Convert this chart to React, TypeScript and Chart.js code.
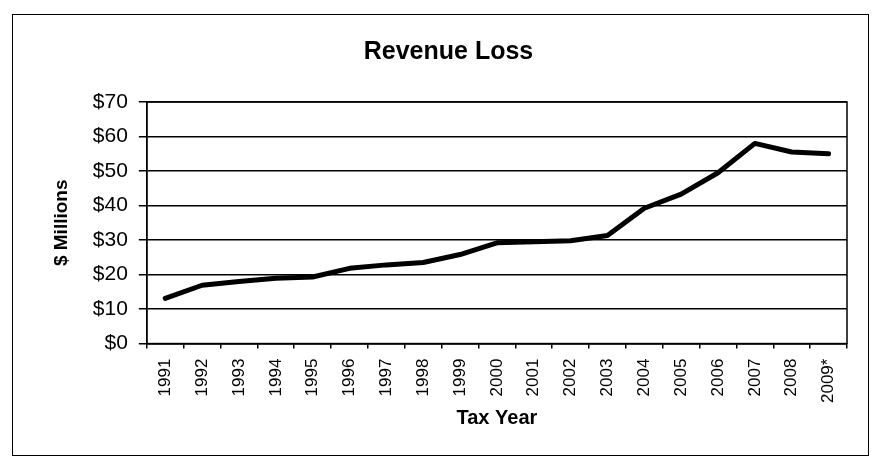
import React, { useEffect, useRef } from "react";
import { Chart, registerables } from "chart.js";

Chart.register(...registerables);

const taxYears = [
  "1991", "1992", "1993", "1994", "1995", "1996", "1997", "1998", "1999", "2000",
  "2001", "2002", "2003", "2004", "2005", "2006", "2007", "2008", "2009*",
];
const revenueLossMillions = [
  13.1, 16.9, 18.0, 18.9, 19.3, 21.8, 22.8, 23.5, 25.8, 29.2,
  29.5, 29.8, 31.3, 39.2, 43.3, 49.5, 58.0, 55.5, 55.0,
];
const yMin = 0;
const yMax = 70;
const yStep = 10;

const FONT = "'Liberation Sans', Arial, Helvetica, sans-serif";

const plotBorder = {
  id: "plotBorder",
  afterDraw(chart: any) {
    const { ctx, chartArea } = chart;
    ctx.save();
    ctx.strokeStyle = "#000";
    ctx.lineWidth = 1.5;
    ctx.strokeRect(chartArea.left, chartArea.top, chartArea.right - chartArea.left, chartArea.bottom - chartArea.top);
    ctx.restore();
  },
};

export default function App() {
  const ref = useRef<HTMLCanvasElement | null>(null);

  useEffect(() => {
    if (!ref.current) return;
    const chart = new Chart(ref.current, {
      type: "line",
      data: {
        labels: taxYears,
        datasets: [
          {
            label: "Revenue Loss",
            data: revenueLossMillions,
            borderColor: "#000",
            backgroundColor: "#000",
            borderWidth: 5,
            pointRadius: 0,
            tension: 0,
            borderCapStyle: "round",
            borderJoinStyle: "round",
          },
        ],
      },
      plugins: [plotBorder],
      options: {
        animation: false,
        responsive: false,
        maintainAspectRatio: false,
        layout: { padding: { left: 20, right: 26, top: 0, bottom: 25 } },
        plugins: {
          legend: { display: false },
          tooltip: { enabled: false },
          title: {
            display: true,
            text: "Revenue Loss",
            color: "#000",
            font: { family: FONT, size: 25, weight: "bold" },
            padding: { top: 23, bottom: 35 },
          },
        },
        scales: {
          x: {
            type: "category",
            offset: true,
            grid: {
              display: true,
              offset: true,
              drawOnChartArea: false,
              drawTicks: true,
              tickLength: 5,
              color: "#000",
              lineWidth: 1.5,
            },
            border: { display: true, color: "#000", width: 1.5 },
            ticks: {
              color: "#000",
              font: { family: FONT, size: 17 },
              maxRotation: 90,
              minRotation: 90,
              autoSkip: false,
              padding: 10,
            },
            title: {
              display: true,
              text: "Tax Year",
              color: "#000",
              font: { family: FONT, size: 20, weight: "bold" },
              padding: { top: -7, bottom: 0 },
            },
          },
          y: {
            min: yMin,
            max: yMax,
            grid: {
              color: "#000",
              lineWidth: 1.5,
              drawTicks: true,
              tickLength: 8,
            },
            border: { display: true, color: "#000", width: 1.5 },
            ticks: {
              stepSize: yStep,
              color: "#000",
              font: { family: FONT, size: 21 },
              padding: 11,
              callback: (v: any) => "$" + v,
            },
            title: {
              display: true,
              text: "$ Millions",
              color: "#000",
              font: { family: FONT, size: 19, weight: "bold" },
              padding: { top: 0, bottom: 9 },
            },
          },
        },
      },
    });
    return () => chart.destroy();
  }, []);

  return (
    <div style={{ position: "absolute", left: 0, top: 0, width: 873, height: 465, background: "#fff" }}>
      <div
        style={{
          position: "absolute",
          left: 12,
          top: 14,
          width: 857,
          height: 442,
          border: "1px solid #000",
          boxSizing: "border-box",
        }}
      />
      <canvas
        ref={ref}
        width={843}
        height={441}
        style={{ position: "absolute", left: 30, top: 14, width: 843, height: 441 }}
      />
    </div>
  );
}
